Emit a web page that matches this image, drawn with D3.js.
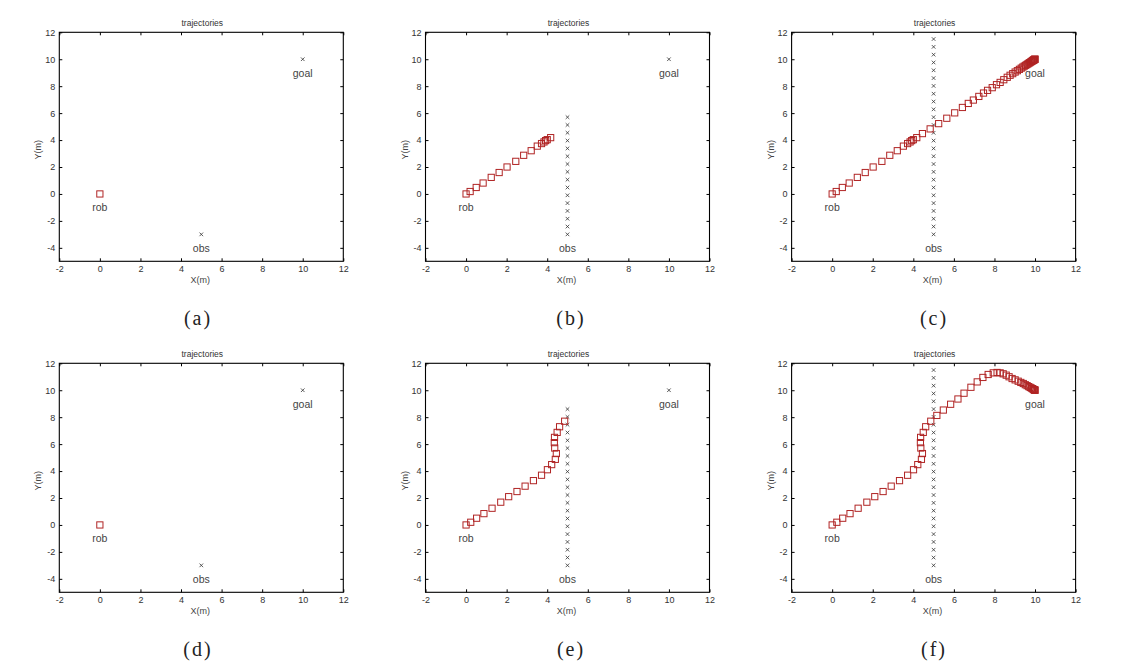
<!DOCTYPE html>
<html>
<head>
<meta charset="utf-8">
<script src="https://cdn.jsdelivr.net/npm/d3@7/dist/d3.min.js"></script>
<style>
  html, body { margin: 0; padding: 0; background: #fff; }
  svg { display: block; }
  .tick text { font-family: "Liberation Sans", Arial, sans-serif; font-size: 9px; fill: #333; }
</style>
</head>
<body>
<svg id="chart" width="1127" height="668"></svg>
<script>
// ---------- data ----------
const xTicks = [-2, 0, 2, 4, 6, 8, 10, 12];
const yTicks = [-4, -2, 0, 2, 4, 6, 8, 10, 12];
const xDomain = [-2, 12];
const yDomain = [-5, 12];

const goal = { x: 10, y: 10, label: "goal" };
const robStart = { x: 0, y: 0, label: "rob" };
const obsStart = { x: 5, y: -3, label: "obs" };

// obstacle positions over time (x = 5)
const obsY = [-3, -2.42, -1.84, -1.26, -0.68, -0.1, 0.48, 1.06, 1.64, 2.22, 2.8, 3.38, 3.96,
              4.54, 5.12, 5.7, 6.28, 6.86, 7.44, 8.02, 8.6, 9.18, 9.76, 10.34, 10.92, 11.5];

// trajectory 1 (top row): robot heads straight for the goal
const straightX = [0, 0.2, 0.5, 0.84, 1.24, 1.63, 2.02, 2.45, 2.84, 3.21, 3.51, 3.72, 3.84, 3.92, 4.0, 4.17,
                   4.45, 4.83, 5.25, 5.65, 6.04, 6.42, 6.71, 6.96, 7.23, 7.46, 7.66, 7.89, 8.1, 8.28, 8.46, 8.63, 8.77,
                   8.9, 9.02, 9.13, 9.23, 9.32, 9.4, 9.47, 9.54, 9.6, 9.65, 9.7, 9.74, 9.78, 9.82, 9.85, 9.88,
                   9.9, 9.92, 9.94, 9.96, 9.97, 9.98, 9.99, 10.0];
const straightY = [0, 0.18, 0.48, 0.81, 1.23, 1.59, 2.0, 2.42, 2.87, 3.21, 3.55, 3.74, 3.86, 3.96, 4.03, 4.18,
                   4.48, 4.83, 5.22, 5.62, 6.02, 6.42, 6.72, 6.97, 7.24, 7.49, 7.69, 7.89, 8.11, 8.28, 8.48, 8.66, 8.81,
                   8.93, 9.05, 9.15, 9.25, 9.34, 9.42, 9.49, 9.55, 9.61, 9.66, 9.71, 9.75, 9.79, 9.83, 9.86, 9.89,
                   9.91, 9.93, 9.95, 9.97, 9.98, 9.99, 10.0, 10.0];

// trajectory 2 (bottom row): robot avoids the moving obstacle
const avoidX = [0, 0.23, 0.52, 0.88, 1.28, 1.71, 2.1, 2.51, 2.91, 3.32, 3.72, 4.01, 4.22, 4.4, 4.45, 4.37, 4.35, 4.36, 4.49, 4.61, 4.86,
                5.16, 5.48, 5.84, 6.2, 6.5, 6.84, 7.15, 7.43, 7.69, 7.94, 8.13, 8.28, 8.43, 8.58, 8.72, 8.87, 9.02, 9.17,
                9.3, 9.42, 9.52, 9.61, 9.69, 9.76, 9.82, 9.87, 9.91, 9.94, 9.96, 9.98, 9.99, 10.0];
const avoidY = [0, 0.2, 0.5, 0.84, 1.24, 1.69, 2.1, 2.48, 2.88, 3.29, 3.69, 4.1, 4.48, 4.87, 5.3, 5.71, 6.11, 6.5, 6.87, 7.29, 7.7,
                8.13, 8.53, 8.96, 9.35, 9.78, 10.22, 10.62, 10.95, 11.17, 11.29, 11.32, 11.29, 11.22, 11.12, 11.0, 10.87, 10.77, 10.67,
                10.58, 10.5, 10.41, 10.34, 10.27, 10.21, 10.16, 10.12, 10.08, 10.05, 10.03, 10.02, 10.01, 10.0];

const captions = ["(a)", "(b)", "(c)", "(d)", "(e)", "(f)"];
const titleText = "trajectories";
const xLabel = "X(m)";
const yLabel = "Y(m)";

// ---------- layout ----------
const panelW = 284, panelH = 229;
const lefts = [59.3, 425.5, 791.6];
const tops = [32.3, 363.3];
const captionX = [198, 571, 934];
const captionY = [318, 649];

const panels = [
  { cap: 0, col: 0, row: 0, tx: straightX, ty: straightY, steps: 1 },
  { cap: 1, col: 1, row: 0, tx: straightX, ty: straightY, steps: 16 },
  { cap: 2, col: 2, row: 0, tx: straightX, ty: straightY, steps: straightX.length },
  { cap: 3, col: 0, row: 1, tx: avoidX, ty: avoidY, steps: 1 },
  { cap: 4, col: 1, row: 1, tx: avoidX, ty: avoidY, steps: 21 },
  { cap: 5, col: 2, row: 1, tx: avoidX, ty: avoidY, steps: avoidX.length },
];

const svg = d3.select("#chart");
svg.append("rect").attr("width", 1127).attr("height", 668).attr("fill", "#fff");

const fontSans = '"Liberation Sans", Arial, sans-serif';
const squareColor = "#b02424";

panels.forEach((p, i) => {
  const x0 = lefts[p.col], y0 = tops[p.row];
  const x = d3.scaleLinear().domain(xDomain).range([0, panelW]);
  const y = d3.scaleLinear().domain(yDomain).range([panelH, 0]);
  const g = svg.append("g").attr("transform", `translate(${x0},${y0})`);

  const clipId = "clip" + i;
  g.append("clipPath").attr("id", clipId)
    .append("rect").attr("x", -4).attr("y", -1).attr("width", panelW + 8).attr("height", panelH + 2);

  const ax = (sel) => sel.selectAll(".domain").remove();
  g.append("g").attr("transform", `translate(0,${panelH})`)
    .call(d3.axisBottom(x).tickValues(xTicks).tickSizeInner(-3).tickSizeOuter(0).tickPadding(4).tickFormat(d3.format("d")))
    .call(ax);
  g.append("g")
    .call(d3.axisTop(x).tickValues(xTicks).tickSizeInner(-3).tickSizeOuter(0).tickFormat(""))
    .call(ax);
  g.append("g")
    .call(d3.axisLeft(y).tickValues(yTicks).tickSizeInner(-3).tickSizeOuter(0).tickPadding(4).tickFormat(d3.format("d")))
    .call(ax);
  g.append("g").attr("transform", `translate(${panelW},0)`)
    .call(d3.axisRight(y).tickValues(yTicks).tickSizeInner(-3).tickSizeOuter(0).tickFormat(""))
    .call(ax);
  g.selectAll(".tick line").attr("stroke", "#000").attr("stroke-width", 1);
  g.selectAll(".tick text").text(function() { return this.textContent.replace("−", "-"); });

  g.append("rect").attr("width", panelW).attr("height", panelH)
    .attr("fill", "none").attr("stroke", "#000").attr("stroke-width", 1.1);

  g.append("text").attr("x", panelW / 2 + 1).attr("y", -9)
    .attr("text-anchor", "middle").attr("dominant-baseline", "central")
    .attr("font-family", fontSans).attr("font-size", 8.5).attr("fill", "#333").text(titleText);
  g.append("text").attr("x", panelW / 2 - 1).attr("y", panelH + 19)
    .attr("text-anchor", "middle").attr("dominant-baseline", "central")
    .attr("font-family", fontSans).attr("font-size", 9).attr("fill", "#444").text(xLabel);
  g.append("text").attr("transform", `translate(-21,${panelH / 2 + 3}) rotate(-90)`)
    .attr("text-anchor", "middle").attr("dominant-baseline", "central")
    .attr("font-family", fontSans).attr("font-size", 9).attr("fill", "#444").text(yLabel);

  const plot = g.append("g").attr("clip-path", `url(#${clipId})`);

  const obsPts = obsY.slice(0, p.steps).map(v => ({ x: obsStart.x, y: v }));
  const xs = 1.8;
  plot.selectAll("path.obs").data(obsPts).join("path").attr("class", "obs")
    .attr("d", d => {
      const cx = x(d.x), cy = y(d.y);
      return `M${cx - xs},${cy - xs}L${cx + xs},${cy + xs}M${cx - xs},${cy + xs}L${cx + xs},${cy - xs}`;
    })
    .attr("stroke", "#333").attr("stroke-width", 0.8).attr("fill", "none");

  plot.append("path")
    .attr("d", `M${x(goal.x) - xs},${y(goal.y) - xs}L${x(goal.x) + xs},${y(goal.y) + xs}M${x(goal.x) - xs},${y(goal.y) + xs}L${x(goal.x) + xs},${y(goal.y) - xs}`)
    .attr("stroke", "#333").attr("stroke-width", 0.8).attr("fill", "none");

  const robPts = p.tx.slice(0, p.steps).map((v, k) => ({ x: v, y: p.ty[k] }));
  const s = 6.2;
  plot.selectAll("rect.rob").data(robPts).join("rect").attr("class", "rob")
    .attr("x", d => x(d.x) - s / 2).attr("y", d => y(d.y) - s / 2)
    .attr("width", s).attr("height", s)
    .attr("fill", "none").attr("stroke", squareColor).attr("stroke-width", 1);

  const labels = [
    { x: robStart.x, y: robStart.y - 1, t: robStart.label },
    { x: goal.x, y: goal.y - 1, t: goal.label },
    { x: obsStart.x, y: obsStart.y - 1, t: obsStart.label },
  ];
  g.selectAll("text.lbl").data(labels).join("text").attr("class", "lbl")
    .attr("x", d => x(d.x)).attr("y", d => y(d.y))
    .attr("text-anchor", "middle").attr("dominant-baseline", "central")
    .attr("font-family", fontSans).attr("font-size", 10.5).attr("fill", "#444")
    .text(d => d.t);

  svg.append("text").attr("x", captionX[p.col]).attr("y", captionY[p.row])
    .attr("text-anchor", "middle").attr("dominant-baseline", "central")
    .attr("font-family", '"Liberation Serif", "DejaVu Serif", serif').attr("font-size", 20)
    .attr("letter-spacing", 2).attr("fill", "#222")
    .text(captions[p.cap]);
});
</script>
</body>
</html>
